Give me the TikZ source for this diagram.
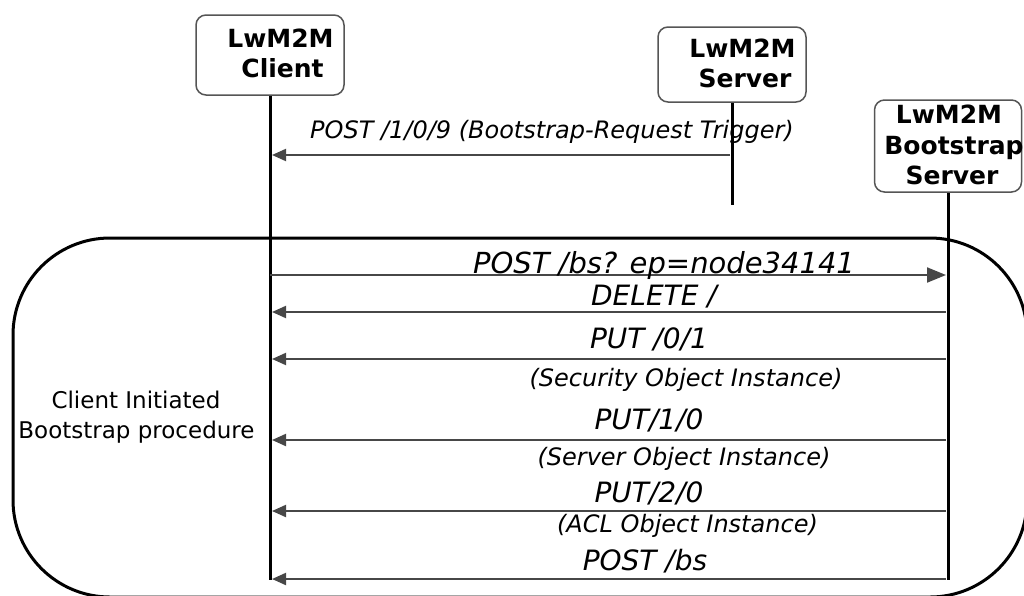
\documentclass[tikz,border=0pt]{standalone}
\usepackage{fontspec}
\setmainfont{DejaVu Sans}[ItalicFont={DejaVu Sans Oblique},BoldFont={DejaVu Sans Bold}]
\usetikzlibrary{arrows.meta}
\definecolor{msggray}{HTML}{474747}
\definecolor{boxgray}{HTML}{555555}
\tikzset{
 hdrbox/.style={draw=boxgray, line width=1.5pt, rounded corners=10pt, inner sep=0pt},
 hdrtxt/.style={anchor=base, inner sep=0pt, font=\fontsize{25}{30}\selectfont\bfseries},
 lbl/.style={anchor=base, inner sep=0pt, font=\fontsize{24}{29}\selectfont\itshape},
 biglbl/.style={anchor=base, inner sep=0pt, font=\fontsize{28}{34}\selectfont\itshape},
 plaintxt/.style={anchor=base, inner sep=0pt, font=\fontsize{23}{28}\selectfont},
 frame/.style={line width=3pt, black, rounded corners=97pt},
 life/.style={line width=3pt, black},
 msg/.style={line width=2pt, msggray, -{Triangle[length=14pt,width=12pt]}},
 bigmsg/.style={line width=2pt, msggray, -{Triangle[length=19pt,width=15pt]}},
}
\begin{document}
\begin{tikzpicture}[x=1pt,y=-1pt]
\useasboundingbox (0,0) rectangle (1024,595);
% procedure frame
\draw[frame] (13,238) rectangle (1027,597);
% header boxes
\node[hdrbox, minimum width=148pt, minimum height=80pt] (client) at (270,55) {};
\node[hdrbox, minimum width=148pt, minimum height=75pt] (server) at (732,64.5) {};
\node[hdrbox, minimum width=147pt, minimum height=92pt] (bs) at (948,146) {};
\node[hdrtxt] (clientA) at (280.5,47) {LwM2M};
\node[hdrtxt] (clientB) at (282.5,77) {Client};
\node[hdrtxt] (serverA) at (742.5,57) {LwM2M};
\node[hdrtxt] (serverB) at (745,87) {Server};
\node[hdrtxt] (bsA) at (949,123) {LwM2M};
\node[hdrtxt] (bsB) at (954,154) {Bootstrap};
\node[hdrtxt] (bsC) at (952,184) {Server};
% lifeline ends
\coordinate (cend) at (270,580);
\coordinate (send) at (732,205);
\coordinate (bend) at (948,580);
\draw[life] (client.south) -- (cend);
\draw[life] (server.south) -- (send);
\draw[life] (bs.south) -- (bend);
% message points
\coordinate (s1) at (730,155);   \coordinate (c1) at (272,155);
\coordinate (c2) at (270,275);   \coordinate (b2) at (946,275);
\coordinate (b3) at (946,312);   \coordinate (c3) at (272,312);
\coordinate (b4) at (946,359);   \coordinate (c4) at (272,359);
\coordinate (b5) at (946,440);   \coordinate (c5) at (272,440);
\coordinate (b6) at (946,511);   \coordinate (c6) at (272,511);
\coordinate (b7) at (946,579);   \coordinate (c7) at (272,579);
\draw[msg] (s1) -- (c1);
\draw[bigmsg] (c2) -- (b2);
\draw[msg] (b3) -- (c3);
\draw[msg] (b4) -- (c4);
\draw[msg] (b5) -- (c5);
\draw[msg] (b6) -- (c6);
\draw[msg] (b7) -- (c7);
% labels
\node[lbl] (m1) at (552,138) {POST /1/0/9 (Bootstrap-Request Trigger)};
\node[anchor=base, inner sep=0pt, font=\fontsize{29}{35}\selectfont\itshape] (m2) at (664,273) {POST /bs? ep=node34141};
\node[biglbl] (m3) at (654,305) {DELETE /};
\node[biglbl] (m4) at (649,348) {PUT /0/1};
\node[lbl] (m4b) at (686,386) {(Security Object Instance)};
\node[biglbl] (m5) at (649,429) {PUT/1/0};
\node[lbl] (m5b) at (684,465) {(Server Object Instance)};
\node[biglbl] (m6) at (649,502) {PUT/2/0};
\node[lbl] (m6b) at (687.5,532) {(ACL Object Instance)};
\node[biglbl] (m7) at (645,570) {POST /bs};
\node[plaintxt] (procA) at (136,408) {Client Initiated};
\node[plaintxt] (procB) at (136.5,438) {Bootstrap procedure};
\end{tikzpicture}
\end{document}
